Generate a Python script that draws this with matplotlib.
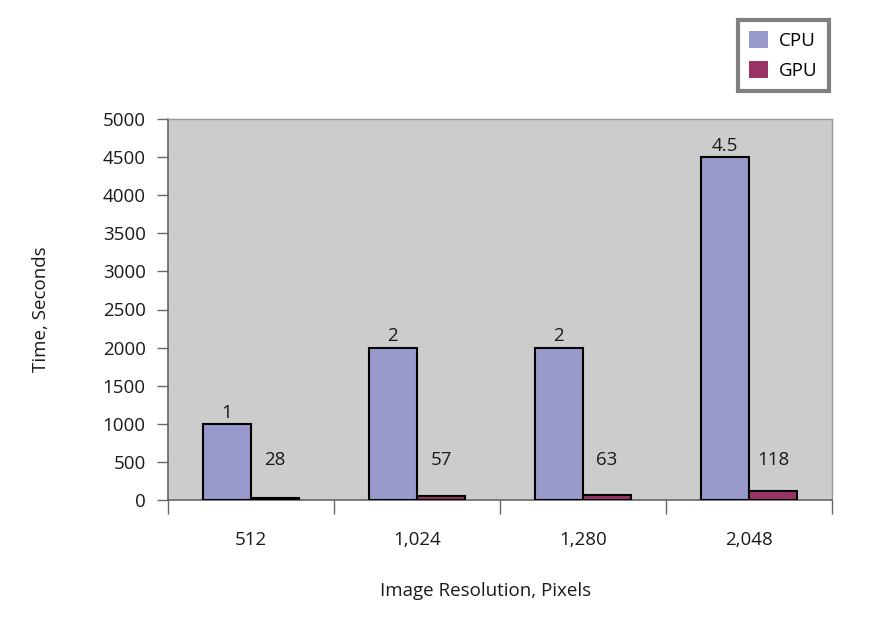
import numpy as np
import matplotlib.pyplot as plt

# 数据
resolutions = ['512', '1,024', '1,280', '2,048']
cpu_time = [1000, 2000, 2000, 4500]
gpu_time = [28, 57, 63, 118]
cpu_labels = ['1', '2', '2', '4.5']
gpu_labels = ['28', '57', '63', '118']

plt.rcParams['font.family'] = ['Open Sans', 'DejaVu Sans']
plt.rcParams['font.size'] = 13.5

fig = plt.figure(figsize=(8.73, 6.23), dpi=100)
ax = fig.add_axes([168 / 873, 1 - 500 / 623, (832 - 168) / 873, (500 - 119) / 623])

x = np.arange(len(resolutions))
w = 0.29
ax.bar(x - w / 2, cpu_time, w, color='#9999cc', edgecolor='black', linewidth=1.5, label='CPU', zorder=3)
ax.bar(x + w / 2, gpu_time, w, color='#993366', edgecolor='black', linewidth=1.5, label='GPU', zorder=3)

for i in range(len(x)):
    ax.text(x[i] - w / 2, cpu_time[i] + 30, cpu_labels[i], ha='center', va='bottom', color='#1a1a1a')
    ax.text(x[i] + w / 2, 525, gpu_labels[i], ha='center', va='center', color='#1a1a1a')

ax.set_facecolor('#cccccc')
ax.set_xlim(-0.5, 3.5)
ax.set_ylim(0, 5000)
ax.set_yticks(range(0, 5001, 500))
ax.set_xticks(x)
ax.set_xticklabels(resolutions)
ax.set_xticks(np.arange(-0.5, 4, 1), minor=True)
ax.tick_params(axis='x', which='major', length=0, pad=22, colors='#1a1a1a')
ax.tick_params(axis='x', which='minor', length=10, color='#666666', width=1)
ax.tick_params(axis='y', length=8, width=1, colors='#1a1a1a', pad=8)
ax.tick_params(axis='y', color='#666666')

for s in ['left', 'bottom']:
    ax.spines[s].set_color('#666666')
    ax.spines[s].set_linewidth(1.2)
for s in ['top', 'right']:
    ax.spines[s].set_color('#999999')
    ax.spines[s].set_linewidth(1)

ax.set_ylabel('Time, Seconds', color='#1a1a1a')
ax.yaxis.set_label_coords(-(168 - 50) / 664, 0.5)
ax.set_xlabel('Image Resolution, Pixels', color='#1a1a1a')
ax.xaxis.set_label_coords((486 - 168) / 664, -(582 - 500) / 381)

leg = ax.legend(loc='upper left', bbox_to_anchor=(738 / 873, 1 - 20 / 623),
                bbox_transform=fig.transFigure, fancybox=False, framealpha=1,
                edgecolor='#808080', handlelength=1.0, handleheight=1.0, borderpad=0.6,
                labelspacing=0.6, handletextpad=0.6, borderaxespad=0)
leg.get_frame().set_linewidth(3)
for h in leg.legend_handles:
    h.set_edgecolor('none')

fig.savefig('out.png', dpi=100)
